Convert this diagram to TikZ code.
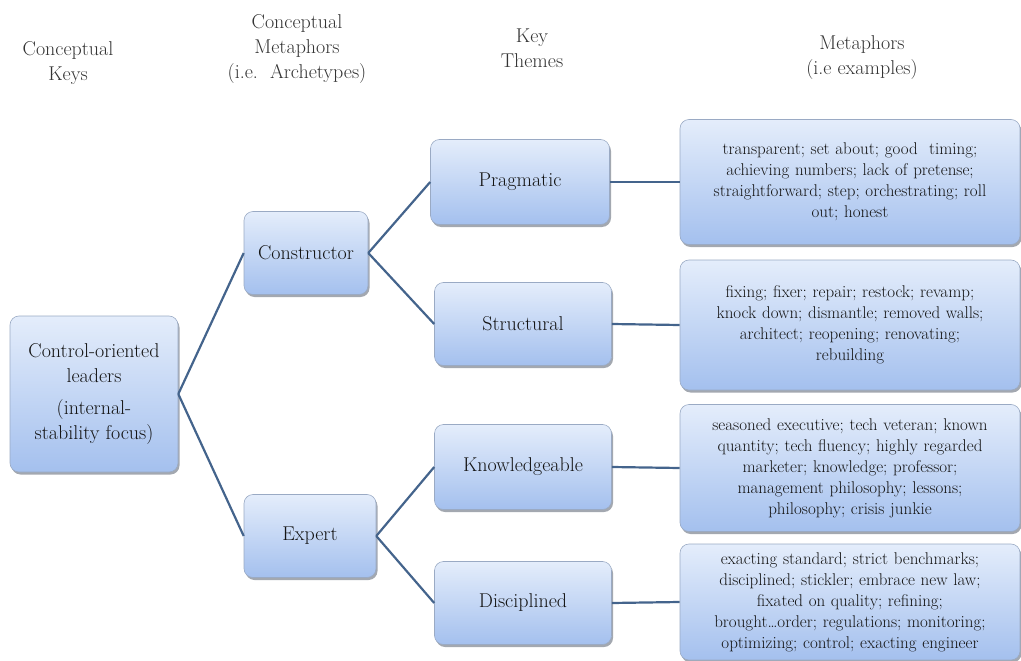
\documentclass[tikz,border=0pt]{standalone}
\definecolor{boxtop}{HTML}{E4EDFB}
\definecolor{boxbot}{HTML}{A4C0EE}
\definecolor{edgec}{HTML}{44648C}
\definecolor{boxline}{HTML}{9AAAC4}
\definecolor{shadowc}{HTML}{A3A8B0}
\begin{document}
\begin{tikzpicture}[x=1pt,y=-1pt,
  box/.style={draw=boxline, line width=0.6pt, rounded corners=9pt,
    top color=boxtop, bottom color=boxbot,
    preaction={fill=shadowc, draw=none, transform canvas={xshift=1.5pt, yshift=-2.5pt}},
    align=center, inner sep=3pt, text=black!92},
  big/.style={box, font=\fontsize{20}{25}\selectfont},
  meta/.style={box, font=\fontsize{17}{21}\selectfont, text width=334pt},
  head/.style={align=center, text=black!80, font=\fontsize{20}{25}\selectfont},
  conn/.style={draw=edgec, line width=2.2pt}]
\useasboundingbox (0,0) rectangle (1021,661);

% headers
\node[head] (h1) at (68,63) {Conceptual\\Keys};
\node[head] (h2) at (297,49) {Conceptual\\Metaphors\\(i.e.\ \ Archetypes)};
\node[head] (h3) at (532,48) {Key\\Themes};
\node[head] (h4) at (862,58) {Metaphors\\(i.e examples)};

% boxes
\node[big, minimum width=168pt, minimum height=156pt] (root) at (94,394)
  {Control-oriented\\leaders\\[7pt](internal-\\stability focus)};
\node[big, minimum width=124pt, minimum height=83pt] (cons) at (306,253) {Constructor};
\node[big, minimum width=132pt, minimum height=83pt] (expe) at (310,536) {Expert};

\node[big, minimum width=179pt, minimum height=85pt] (prag) at (520,182) {Pragmatic};
\node[big, minimum width=177pt, minimum height=83pt] (stru) at (523,324) {Structural};
\node[big, minimum width=177pt, minimum height=85pt] (know) at (523,467) {Knowledgeable};
\node[big, minimum width=177pt, minimum height=83pt] (disc) at (523,603) {Disciplined};

\node[meta, minimum height=125pt] (m1) at (850,182)
  {transparent; set about; good\ \ timing;\\achieving numbers; lack of pretense;\\straightforward; step; orchestrating; roll\\out; honest};
\node[meta, minimum height=130pt] (m2) at (850,325)
  {fixing; fixer; repair; restock; revamp;\\knock down; dismantle; removed walls;\\architect; reopening; renovating;\\rebuilding};
\node[meta, minimum height=127pt] (m3) at (850,468)
  {seasoned executive; tech veteran; known\\quantity; tech fluency; highly regarded\\marketer; knowledge; professor;\\management philosophy; lessons;\\philosophy; crisis junkie};
\node[meta, minimum height=116pt] (m4) at (850,602)
  {exacting standard; strict benchmarks;\\disciplined; stickler; embrace new law;\\fixated on quality; refining;\\brought\dots order; regulations; monitoring;\\optimizing; control; exacting engineer};

% connectors
\draw[conn] (root.east) -- (cons.west);
\draw[conn] (root.east) -- (expe.west);
\draw[conn] (cons.east) -- (prag.west);
\draw[conn] (cons.east) -- (stru.west);
\draw[conn] (expe.east) -- (know.west);
\draw[conn] (expe.east) -- (disc.west);
\draw[conn] (prag.east) -- (m1.west);
\draw[conn] (stru.east) -- (m2.west);
\draw[conn] (know.east) -- (m3.west);
\draw[conn] (disc.east) -- (m4.west);
\end{tikzpicture}
\end{document}
